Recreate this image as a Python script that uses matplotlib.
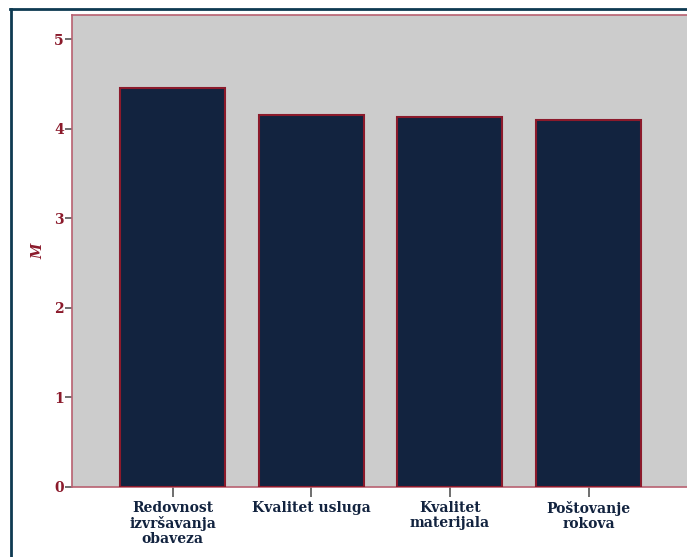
import matplotlib.pyplot as plt
from matplotlib.lines import Line2D
import numpy as np

categories = ["Redovnost\nizvršavanja\nobaveza", "Kvalitet usluga",
              "Kvalitet\nmaterijala", "Poštovanje\nrokova"]
means = [4.45, 4.15, 4.13, 4.10]
yticks = [0, 1, 2, 3, 4, 5]

red = "#8B1A2B"
navy = "#12233F"

plt.rcParams["font.family"] = ["DejaVu Serif"]

fig = plt.figure(figsize=(6.87, 5.57), dpi=100)
ax = fig.add_axes([72 / 687, 70 / 557, 620 / 687, 472 / 557])
ax.set_facecolor("#CCCCCC")

x = np.arange(len(categories))
ax.bar(x, means, width=0.757, color=navy, edgecolor=red, linewidth=1.5, zorder=3)

ax.set_xlim(-0.725, 3.745)
ax.set_ylim(0, 5.27)
ax.set_yticks(yticks)
ax.set_yticklabels([str(t) for t in yticks], color=red, fontweight="bold", fontsize=10)
ax.set_xticks(x)
ax.set_xticklabels(categories, color=navy, fontweight="bold", fontsize=10,
                   linespacing=1.1)
ax.tick_params(axis="y", length=5, width=1.2, color="#555555", pad=1)
ax.tick_params(axis="x", length=7, width=1.2, color="#555555", pad=3)
ax.set_ylabel("M", color=red, fontweight="bold", fontstyle="italic", fontsize=10,
              labelpad=6)

for side in ["left", "top", "bottom"]:
    ax.spines[side].set_color("#B86070")
    ax.spines[side].set_linewidth(1.2)
ax.spines["right"].set_visible(False)

# outer frame
fig.add_artist(Line2D([10.5 / 687, 10.5 / 687], [0, 1 - 9 / 557],
                      transform=fig.transFigure, color="#0E3A52", linewidth=2))
fig.add_artist(Line2D([10 / 687, 1], [1 - 9 / 557, 1 - 9 / 557],
                      transform=fig.transFigure, color="#0E3A52", linewidth=2))

fig.savefig("out.png", dpi=100)
